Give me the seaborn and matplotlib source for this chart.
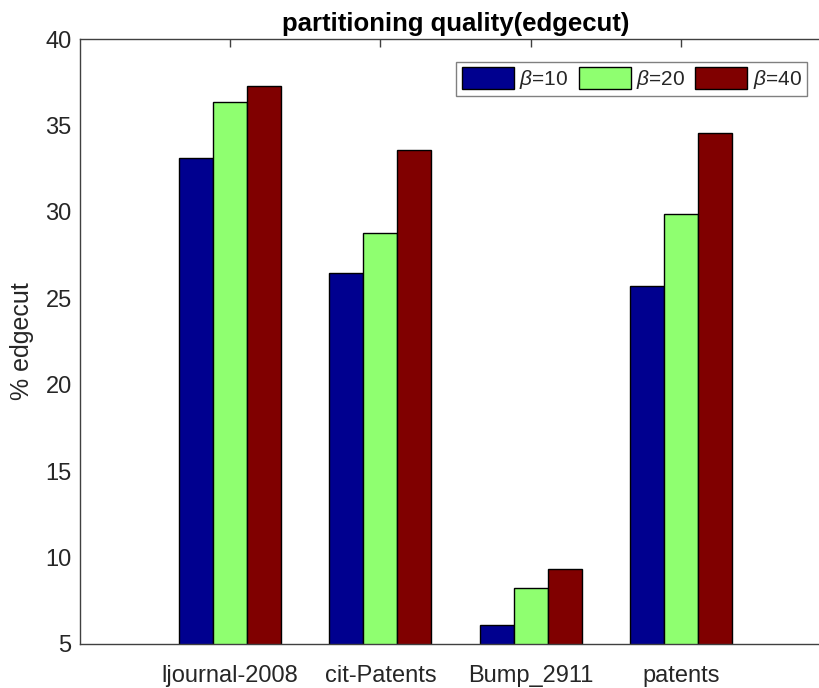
import matplotlib
matplotlib.use("Agg")
import matplotlib.pyplot as plt
import seaborn as sns
import pandas as pd

# Edge-cut percentages per graph for each beta setting
graphs = ["ljournal-2008", "cit-Patents", "Bump_2911", "patents"]
beta_labels = [r"$\beta$=10", r"$\beta$=20", r"$\beta$=40"]
beta10 = [33.13, 26.45, 6.10, 25.71]
beta20 = [36.34, 28.76, 8.26, 29.86]
beta40 = [37.30, 33.58, 9.34, 34.55]
yticks = [5, 10, 15, 20, 25, 30, 35, 40]

colors = [(0.0, 0.0, 0.5625), (0.5625, 1.0, 0.4375), (0.5, 0.0, 0.0)]

rows = []
for lab, vals in zip(beta_labels, [beta10, beta20, beta40]):
    for g, v in zip(graphs, vals):
        rows.append({"graph": g, "beta": lab, "edgecut": v})
df = pd.DataFrame(rows)

sns.set_style("white")
plt.rcParams["font.family"] = ["Liberation Sans", "DejaVu Sans"]
plt.rcParams["mathtext.fontset"] = "custom"
plt.rcParams["mathtext.it"] = "Liberation Sans:italic"
plt.rcParams["mathtext.rm"] = "Liberation Sans"

fig = plt.figure(figsize=(8.2, 6.88), dpi=100)
ax = fig.add_axes([80 / 820, 44 / 688, 751 / 820, 605 / 688])

sns.barplot(data=df, x="graph", y="edgecut", hue="beta", order=graphs,
            hue_order=beta_labels, palette=colors, width=0.68, gap=0,
            edgecolor="black", linewidth=1.0, saturation=1, ax=ax)

ax.set_xlim(-1, 4)
ax.set_ylim(5, 40)
ax.set_yticks(yticks)
ax.set_yticklabels([str(t) for t in yticks])
ax.set_xlabel("")
ax.set_ylabel("% edgecut", fontsize=18, color="#262626", labelpad=8)
ax.set_title("partitioning quality(edgecut)", fontsize=18.5, fontweight="bold",
             color="black", pad=6)

ax.tick_params(axis="both", direction="in", length=6, width=1, color="#404040",
               labelsize=17, labelcolor="#262626", top=True, right=True)
ax.tick_params(axis="x", pad=15)
ax.tick_params(axis="y", pad=6)
for side in ["left", "right", "top", "bottom"]:
    ax.spines[side].set_color("#404040")
    ax.spines[side].set_linewidth(1.0)

handles, labels = ax.get_legend_handles_labels()
leg = ax.legend(handles, labels, ncol=3, loc="upper right",
                bbox_to_anchor=(0.968, 0.962), borderaxespad=0,
                fontsize=15, handlelength=2.5, handleheight=1.2,
                handletextpad=0.25, columnspacing=0.5, borderpad=0.25,
                frameon=True, fancybox=False, shadow=False)
leg.get_frame().set_edgecolor("#606060")
leg.get_frame().set_linewidth(1.0)

fig.savefig("out.png", dpi=100)
